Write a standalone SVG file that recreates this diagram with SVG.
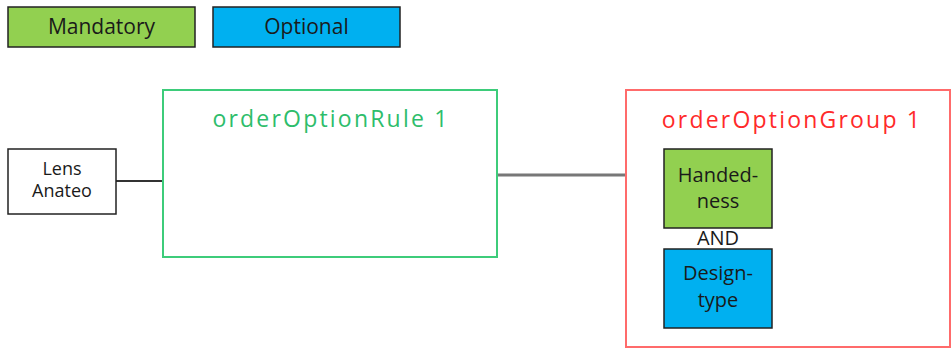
<svg xmlns="http://www.w3.org/2000/svg" width="952" height="349" viewBox="0 0 952 349">
<style>
text{font-family:"Open Sans","Liberation Sans",sans-serif;text-anchor:middle;fill:#1a1a1a}
.box{stroke:#222;stroke-width:1.5}
.green{fill:#92d050}
.blue{fill:#00b0f0}
.t21{font-size:21px}
.t20{font-size:20px}
.t18{font-size:18px}
.title{font-size:23px;letter-spacing:2.2px}
</style>
<g id="legend-mandatory"><rect class="box green" x="8" y="7" width="187" height="40"/><text class="t21" x="101.5" y="34">Mandatory</text></g>
<g id="legend-optional"><rect class="box blue" x="213" y="7" width="187" height="40"/><text class="t21" x="306.5" y="34">Optional</text></g>
<g id="connectors">
<line x1="116" y1="181" x2="163" y2="181" stroke="#333" stroke-width="2"/>
<line x1="497" y1="175" x2="626" y2="175" stroke="#777" stroke-width="3"/>
</g>
<g id="lens"><rect class="box" fill="#fff" x="8" y="149" width="108" height="65"/><text class="t18" x="62" y="175">Lens</text><text class="t18" x="62" y="197">Anateo</text></g>
<g id="rule"><rect x="163" y="90" width="334" height="167" fill="#fff" stroke="#3dcc7a" stroke-width="2"/><text class="title" x="331" y="127" style="fill:#2ebd6b">orderOptionRule 1</text></g>
<g id="group"><rect x="626" y="90" width="324" height="257" fill="#fff" stroke="#ff6b6b" stroke-width="2"/><text class="title" x="792" y="128" style="fill:#ff2a2a">orderOptionGroup 1</text>
<g id="handedness"><rect class="box green" x="664" y="149" width="108" height="79"/><text class="t20" x="718" y="182">Handed-</text><text class="t20" x="718" y="208">ness</text></g>
<text class="t20" x="718" y="245">AND</text>
<g id="designtype"><rect class="box blue" x="664" y="249" width="108" height="79"/><text class="t20" x="718" y="280">Design-</text><text class="t20" x="718" y="307">type</text></g>
</g>
</svg>
